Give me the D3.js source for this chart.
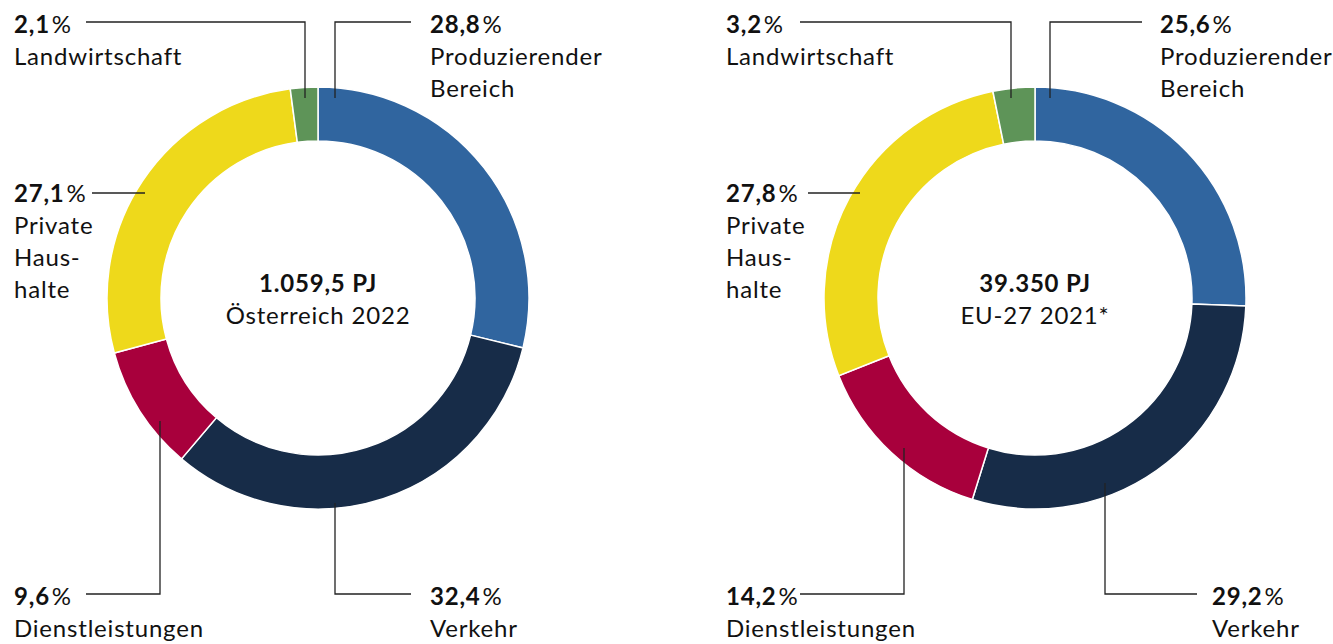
<!doctype html>
<html lang="de">

<head>
  <meta charset="UTF-8">
  <title>Energetischer Endverbrauch nach Sektoren</title>
  <style type="text/css">
    body { margin: 0; background: #fff; }
    svg { display: block; font-family: Lato, "Open Sans", sans-serif; letter-spacing: 0.8px; }
  </style>
  <script src="https://cdn.jsdelivr.net/npm/d3@7"></script>
</head>

<body>
  <svg width="1333" height="644"></svg>
  <script>
    // data
    const categories = ["Produzierender Bereich", "Verkehr", "Dienstleistungen", "Private Haushalte", "Landwirtschaft"]
    const labelLines = [["Produzierender", "Bereich"], ["Verkehr"], ["Dienstleistungen"], ["Private", "Haus-", "halte"], ["Landwirtschaft"]]
    const colors = ["#30659f", "#172c48", "#a8003c", "#eed91b", "#5e9458"]
    const valuesAT = [28.8, 32.4, 9.6, 27.1, 2.1]
    const valuesEU = [25.6, 29.2, 14.2, 27.8, 3.2]
    const totals = ["1.059,5 PJ", "39.350 PJ"]
    const regions = ["Österreich 2022", "EU-27 2021*"]

    // layout of labels, relative to the donut centre (text x, first baseline y, leader points)
    const layoutAT = [
      { tx: 112, ty: -265, pts: [[93, -276], [17, -276], [17, -200]] },
      { tx: 112, ty: 307, pts: [[93, 296], [17, 296], [17, 205]] },
      { tx: -304, ty: 307, pts: [[-232, 296], [-158, 296], [-158, 123]] },
      { tx: -304, ty: -96, pts: [[-226, -105], [-173, -105]] },
      { tx: -304, ty: -265, pts: [[-232, -276], [-13, -276], [-13, -200]] }
    ]
    const layoutEU = [
      { tx: 125, ty: -265, pts: [[107, -276], [15, -276], [15, -200]] },
      { tx: 177, ty: 307, pts: [[162, 296], [70, 296], [70, 185]] },
      { tx: -309, ty: 307, pts: [[-235, 296], [-131, 296], [-131, 150]] },
      { tx: -309, ty: -96, pts: [[-227, -105], [-175, -105]] },
      { tx: -309, ty: -265, pts: [[-235, -276], [-24, -276], [-24, -200]] }
    ]

    const charts = [
      { cx: 318, cy: 298, values: valuesAT, total: totals[0], region: regions[0], layout: layoutAT },
      { cx: 1035, cy: 298, values: valuesEU, total: totals[1], region: regions[1], layout: layoutEU }
    ]

    const outerR = 211, innerR = 157, fontSize = 24, lineH = 32
    const svg = d3.select("svg")
    const pie = d3.pie().sort(null).value(d => d)
    const arc = d3.arc().innerRadius(innerR).outerRadius(outerR)
    const line = d3.line()
    const fmt = v => d3.format(".1f")(v).replace(".", ",")

    charts.forEach(c => {
      const g = svg.append("g").attr("transform", `translate(${c.cx},${c.cy})`)

      g.selectAll("path.slice")
        .data(pie(c.values))
        .enter().append("path")
        .attr("class", "slice")
        .attr("d", arc)
        .attr("fill", (d, i) => colors[i])
        .attr("stroke", "#fff")
        .attr("stroke-width", 1.5)

      // leader lines
      g.selectAll("path.leader")
        .data(c.layout)
        .enter().append("path")
        .attr("class", "leader")
        .attr("d", d => line(d.pts))
        .attr("fill", "none")
        .attr("stroke", "#222")
        .attr("stroke-width", 1.3)

      // labels
      const lab = g.selectAll("text.label")
        .data(c.values)
        .enter().append("text")
        .attr("class", "label")
        .attr("x", (d, i) => c.layout[i].tx)
        .attr("y", (d, i) => c.layout[i].ty)
        .attr("font-size", fontSize)
        .attr("fill", "#111")
      lab.append("tspan")
        .attr("font-weight", 700)
        .text(d => fmt(d))
      lab.append("tspan")
        .attr("dx", 2)
        .text("%")
      lab.each(function (d, i) {
        const t = d3.select(this)
        labelLines[i].forEach(s => {
          t.append("tspan")
            .attr("x", c.layout[i].tx)
            .attr("dy", lineH)
            .text(s)
        })
      })

      // centre
      g.append("text")
        .attr("text-anchor", "middle")
        .attr("y", -6)
        .attr("font-size", fontSize)
        .attr("font-weight", 700)
        .attr("fill", "#111")
        .text(c.total)
      g.append("text")
        .attr("text-anchor", "middle")
        .attr("y", 26)
        .attr("font-size", fontSize)
        .attr("fill", "#111")
        .text(c.region)
    })
  </script>
</body>

</html>
